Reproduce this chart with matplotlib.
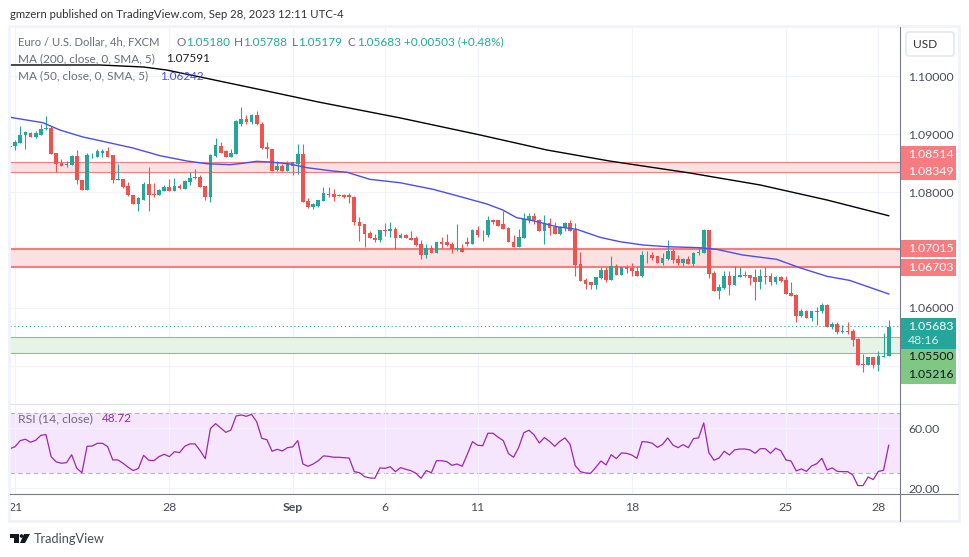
"""EUR/USD 4h chart"""

import matplotlib

matplotlib.use("Agg")
import matplotlib.pyplot as plt
from matplotlib.patches import FancyBboxPatch, Polygon, Rectangle
import numpy as np

plt.rcParams["font.family"] = ["Lato", "DejaVu Sans"]

# Candles, in pips (1 pip = 0.0001)
opens = [
    10878, 10880, 10884, 10899, 10902, 10894, 10899, 10909, 10910, 10867,
    10850, 10846, 10847, 10862, 10820, 10803, 10863, 10861, 10868, 10871,
    10863, 10821, 10823, 10810, 10795, 10779, 10786, 10814, 10797, 10794,
    10802, 10808, 10801, 10810, 10806, 10817, 10824, 10826, 10810, 10791,
    10862, 10880, 10871, 10861, 10866, 10918, 10926, 10921, 10933, 10918,
    10878, 10875, 10838, 10845, 10836, 10845, 10849, 10866, 10784, 10775,
    10776, 10785, 10797, 10797, 10794, 10794, 10794, 10792, 10749, 10744,
    10730, 10721, 10718, 10735, 10732, 10737, 10720, 10726, 10721, 10720,
    10711, 10692, 10704, 10694, 10714, 10713, 10711, 10701, 10704, 10714,
    10711, 10735, 10728, 10726, 10751, 10751, 10744, 10738, 10714, 10706,
    10721, 10752, 10759, 10752, 10733, 10747, 10740, 10728, 10738, 10747,
    10735, 10676, 10649, 10644, 10640, 10652, 10666, 10649, 10673, 10657,
    10671, 10669, 10664, 10656, 10692, 10692, 10689, 10678, 10685, 10699,
    10685, 10678, 10685, 10676, 10694, 10695, 10735, 10661, 10630, 10635,
    10656, 10640, 10654, 10657, 10657, 10654, 10644, 10656, 10656, 10644,
    10654, 10649, 10626, 10623, 10587, 10594, 10583, 10593, 10594, 10606,
    10568, 10573, 10559, 10561, 10561, 10547, 10504, 10501, 10516, 10502,
    10516, 10518,
]
highs = [
    10881, 10890, 10913, 10905, 10903, 10905, 10917, 10931, 10913, 10868,
    10857, 10853, 10864, 10872, 10821, 10868, 10868, 10874, 10874, 10878,
    10864, 10849, 10823, 10818, 10795, 10792, 10818, 10843, 10815, 10805,
    10812, 10822, 10824, 10814, 10821, 10834, 10839, 10829, 10810, 10865,
    10893, 10886, 10872, 10875, 10925, 10946, 10933, 10934, 10940, 10920,
    10887, 10875, 10853, 10848, 10854, 10852, 10883, 10883, 10789, 10781,
    10786, 10808, 10809, 10806, 10797, 10797, 10799, 10793, 10757, 10745,
    10732, 10728, 10735, 10747, 10749, 10740, 10730, 10728, 10732, 10725,
    10718, 10711, 10709, 10714, 10723, 10728, 10714, 10744, 10711, 10723,
    10737, 10742, 10735, 10759, 10754, 10752, 10768, 10740, 10726, 10737,
    10764, 10764, 10764, 10754, 10761, 10756, 10749, 10742, 10749, 10752,
    10747, 10697, 10651, 10644, 10654, 10670, 10670, 10689, 10676, 10671,
    10675, 10678, 10673, 10699, 10699, 10697, 10690, 10695, 10718, 10701,
    10692, 10687, 10690, 10697, 10706, 10737, 10735, 10664, 10642, 10664,
    10664, 10673, 10671, 10664, 10657, 10668, 10668, 10671, 10661, 10656,
    10656, 10656, 10644, 10625, 10599, 10597, 10594, 10601, 10609, 10607,
    10576, 10575, 10570, 10575, 10564, 10549, 10520, 10516, 10516, 10525,
    10557, 10579,
]
lows = [
    10876, 10872, 10884, 10875, 10894, 10893, 10898, 10907, 10866, 10834,
    10845, 10843, 10847, 10813, 10803, 10803, 10859, 10860, 10860, 10861,
    10816, 10820, 10807, 10793, 10779, 10768, 10786, 10768, 10791, 10794,
    10802, 10801, 10801, 10805, 10805, 10812, 10822, 10808, 10786, 10783,
    10861, 10868, 10860, 10860, 10866, 10914, 10918, 10918, 10916, 10875,
    10859, 10836, 10837, 10836, 10836, 10830, 10831, 10782, 10773, 10771,
    10775, 10784, 10792, 10784, 10793, 10789, 10781, 10743, 10716, 10706,
    10720, 10714, 10713, 10725, 10723, 10702, 10720, 10720, 10718, 10707,
    10685, 10687, 10694, 10694, 10704, 10707, 10694, 10699, 10697, 10707,
    10711, 10723, 10716, 10723, 10744, 10742, 10737, 10713, 10706, 10706,
    10721, 10747, 10744, 10732, 10711, 10726, 10728, 10726, 10732, 10732,
    10656, 10647, 10632, 10633, 10633, 10650, 10645, 10649, 10657, 10657,
    10661, 10656, 10656, 10654, 10678, 10683, 10678, 10675, 10682, 10678,
    10675, 10673, 10676, 10673, 10692, 10695, 10651, 10630, 10616, 10633,
    10623, 10639, 10654, 10654, 10640, 10614, 10633, 10642, 10639, 10642,
    10644, 10625, 10620, 10575, 10585, 10582, 10578, 10570, 10592, 10568,
    10563, 10556, 10557, 10556, 10535, 10501, 10489, 10501, 10497, 10492,
    10516, 10518,
]
closes = [
    10880, 10887, 10899, 10903, 10894, 10902, 10909, 10911, 10866, 10849,
    10845, 10849, 10862, 10820, 10803, 10864, 10864, 10871, 10871, 10861,
    10821, 10822, 10808, 10794, 10780, 10789, 10814, 10795, 10794, 10803,
    10809, 10801, 10810, 10807, 10819, 10825, 10826, 10809, 10791, 10864,
    10881, 10868, 10861, 10867, 10923, 10926, 10921, 10933, 10917, 10876,
    10875, 10837, 10845, 10836, 10848, 10851, 10865, 10783, 10774, 10779,
    10786, 10798, 10795, 10792, 10793, 10792, 10791, 10748, 10742, 10728,
    10720, 10718, 10735, 10732, 10737, 10720, 10726, 10720, 10718, 10709,
    10692, 10704, 10694, 10714, 10711, 10709, 10701, 10704, 10697, 10711,
    10735, 10726, 10727, 10751, 10749, 10742, 10737, 10713, 10706, 10723,
    10754, 10759, 10751, 10733, 10747, 10738, 10728, 10740, 10747, 10732,
    10675, 10647, 10642, 10640, 10654, 10666, 10649, 10673, 10657, 10671,
    10668, 10663, 10656, 10692, 10691, 10687, 10678, 10687, 10699, 10683,
    10678, 10685, 10676, 10695, 10697, 10735, 10659, 10630, 10637, 10656,
    10640, 10656, 10657, 10655, 10652, 10644, 10656, 10654, 10644, 10654,
    10647, 10625, 10621, 10587, 10594, 10583, 10594, 10595, 10606, 10568,
    10573, 10559, 10561, 10559, 10545, 10502, 10501, 10516, 10502, 10518,
    10518, 10568,
]

# Moving averages, read at a number of bars along each line
ma200_bars = [0, 17.5, 26, 30.5, 37, 50, 60, 76, 91.5, 104.5, 116.7, 132.3, 146, 159, 171]
ma200_vals = [
    1.10190, 1.10190, 1.10155, 1.10103, 1.09983, 1.09741, 1.09552, 1.09276,
    1.08983, 1.08724, 1.08534, 1.08328, 1.08121, 1.07862, 1.07591,
]
ma50_bars = [
    0, 6.4, 9.7, 14.2, 17.5, 23.9, 29.2, 34.4, 38.3, 42.8, 45.3, 48, 50.6,
    54.5, 57.8, 62.8, 65.6, 70, 75.9, 82.3, 88.1, 92.8, 95.9, 98.6, 101.8,
    106.4, 110.3, 114.8, 118.7, 123.2, 127.8, 134.2, 137.5, 142.6, 149.2,
    153.7, 159, 163.4, 171,
]
ma50_vals = [
    1.09288, 1.09195, 1.09069, 1.08948, 1.08885, 1.08759, 1.08626, 1.08535,
    1.08488, 1.08471, 1.08495, 1.08529, 1.08517, 1.08483, 1.08419, 1.08362,
    1.08340, 1.08219, 1.08160, 1.08047, 1.07909, 1.07793, 1.07690, 1.07557,
    1.07505, 1.07402, 1.07357, 1.07219, 1.07143, 1.07086, 1.07057, 1.07040,
    1.07012, 1.06914, 1.06839, 1.06694, 1.06546, 1.06476, 1.06242,
]

rsi = [
    46.4, 47.8, 51.8, 52.7, 50.7, 52.0, 55.3, 55.8, 41.1, 37.6,
    36.7, 37.1, 42.4, 33.3, 30.4, 48.0, 48.2, 50.0, 50.0, 47.8,
    38.9, 38.9, 36.7, 34.0, 31.8, 33.3, 42.0, 38.7, 38.4, 41.1,
    42.7, 41.1, 44.4, 43.8, 48.0, 49.6, 49.6, 45.1, 39.8, 59.8,
    63.1, 60.2, 57.3, 58.9, 68.2, 68.9, 68.0, 69.3, 64.4, 53.3,
    52.4, 44.7, 46.0, 44.9, 47.1, 47.6, 51.8, 36.2, 34.7, 36.2,
    38.4, 41.6, 41.3, 40.7, 40.7, 40.4, 40.2, 31.1, 30.4, 27.8,
    26.9, 26.7, 33.6, 33.3, 34.4, 31.1, 33.8, 32.7, 31.8, 30.0,
    26.7, 31.8, 30.4, 38.4, 38.4, 37.8, 35.3, 36.2, 34.7, 42.7,
    51.1, 48.7, 48.4, 56.7, 56.7, 54.0, 51.8, 43.1, 40.7, 47.3,
    57.1, 58.7, 55.6, 50.2, 53.8, 51.3, 48.0, 51.3, 53.6, 49.3,
    35.1, 31.1, 30.2, 30.0, 34.0, 38.2, 35.6, 42.4, 39.8, 43.6,
    43.3, 42.2, 40.0, 51.1, 50.9, 50.0, 47.3, 49.3, 53.6, 48.9,
    47.1, 49.1, 47.1, 53.1, 53.6, 63.6, 43.8, 38.7, 40.2, 44.7,
    42.2, 45.6, 46.2, 46.2, 45.6, 43.3, 46.4, 46.4, 43.3, 46.7,
    45.1, 38.9, 38.2, 31.6, 32.9, 31.3, 34.9, 36.4, 40.0, 32.2,
    33.6, 31.3, 31.1, 31.1, 28.9, 21.8, 21.8, 27.6, 25.8, 31.3,
    32.0, 48.72,
]

date_bars = [1, 31, 55, 73, 91, 121, 151, 169]
date_labels = ["21", "28", "Sep", "6", "11", "18", "25", "28"]
price_ticks = [1.05, 1.06, 1.07, 1.08, 1.09, 1.10]
price_tick_labels = ["", "1.06000", "", "1.08000", "1.09000", "1.10000"]
rsi_ticks = [20, 60]
red_zones = [(1.08349, 1.08514, 0.8), (1.06703, 1.07015, 1.5)]
green_zone = (1.05216, 1.05500)
last_price = 1.05683

UP = "#26A69A"
DOWN = "#EF5350"
GRID = "#F0F3FA"
AXIS = "#787B86"
TEXT = "#6A6D78"
W, H = 970, 557


def px_axes(left, top, right, bottom):
    return fig.add_axes(
        [left / W, 1 - bottom / H, (right - left) / W, (bottom - top) / H]
    )


fig = plt.figure(figsize=(W / 100, H / 100), dpi=100)

# Price pane
ax = px_axes(10, 27, 900, 403)
bars = np.arange(len(closes))
o = np.array(opens) / 10000
h = np.array(highs) / 10000
l = np.array(lows) / 10000
c = np.array(closes) / 10000
colors = [UP if b >= a else DOWN for a, b in zip(o, c)]

for lo, hi, lw in red_zones:
    ax.axhspan(lo, hi, color="#FCE1E2", lw=0, zorder=1)
    ax.axhline(lo, color="#F77C80", lw=lw, zorder=2)
    ax.axhline(hi, color="#F77C80", lw=lw, zorder=2)
ax.axhspan(green_zone[0], green_zone[1], color="#E6F4E7", lw=0, zorder=1)
ax.axhline(green_zone[0], color="#81C784", lw=0.8, zorder=2)
ax.axhline(green_zone[1], color="#81C784", lw=0.8, zorder=2)

ax.vlines(bars, l, h, colors=colors, lw=0.8, zorder=3)
ax.bar(bars, np.abs(c - o).clip(0.00003), bottom=np.minimum(o, c), width=0.72,
       color=colors, lw=0, zorder=4)
ax.plot(ma200_bars, ma200_vals, color="black", lw=1, zorder=5)
ax.plot(ma50_bars, ma50_vals, color="#4C4CF0", lw=1, zorder=5)
ax.axhline(last_price, color=UP, lw=0.8, ls=(0, (1, 2.5)), zorder=5)

ax.set_xlim(0, 173.2)
ax.set_ylim(1.04362, 1.10845)
ax.yaxis.tick_right()
ax.set_yticks(price_ticks)
ax.set_yticklabels(price_tick_labels, fontsize=8.8, color="#4A4D57")
ax.set_xticks(date_bars)
ax.tick_params(axis="x", length=0, labelbottom=False)
ax.tick_params(axis="y", length=0, pad=5.8)
ax.grid(True, color=GRID, lw=0.8, zorder=0)
ax.set_axisbelow(True)

# RSI pane
ax2 = px_axes(10, 404, 900, 494)
ax2.axhspan(30, 70, color="#F5E6FD", lw=0, zorder=1)
ax2.axhline(70, color="#B2B5BE", lw=0.8, ls=(0, (4, 3)), zorder=2)
ax2.axhline(30, color="#B2B5BE", lw=0.8, ls=(0, (4, 3)), zorder=2)
ax2.plot(bars, rsi, color="#9C27B0", lw=0.9, zorder=4)
ax2.set_xlim(0, 173.2)
ax2.set_ylim(16.2, 76.2)
ax2.yaxis.tick_right()
ax2.set_yticks(rsi_ticks)
ax2.set_yticklabels(["20.00", "60.00"], fontsize=8.8, color="#4A4D57")
ax2.set_xticks(date_bars)
ax2.set_xticklabels(date_labels, fontsize=8.8, color="#4A4D57")
ax2.get_xticklabels()[2].set_fontweight("bold")
ax2.tick_params(axis="x", length=0, pad=6)
ax2.tick_params(axis="y", length=0, pad=5.8)
ax2.grid(True, color=GRID, lw=0.8, zorder=3)
ax2.set_axisbelow(False)

for a in (ax, ax2):
    for s in a.spines.values():
        s.set_visible(False)
ax.patch.set_alpha(0)
ax2.patch.set_alpha(0)

# Everything around the panes is placed in pixels
ov = fig.add_axes([0, 0, 1, 1], zorder=10)
ov.set_xlim(0, W)
ov.set_ylim(H, 0)
ov.axis("off")
ov.patch.set_alpha(0)

# Frame of the widget
ov.add_patch(Rectangle((9, 26), 950, 495, fill=False, ec=GRID, lw=2))
ov.plot([10, 958], [403.5, 403.5], color="#E0E3EB", lw=0.8)
ov.plot([10, 958], [494, 494], color=AXIS, lw=0.8)
ov.plot([900, 900], [27, 521], color=AXIS, lw=0.8)


def label(x, y, s, color=TEXT, size=8.5, **kw):
    ov.text(x, y, s, color=color, fontsize=size, va="center", ha="left", **kw)


label(10, 14.5, "gmzern published on TradingView.com, Sep 28, 2023 12:11 UTC-4",
      color="#333333", size=8.2)

label(18, 42, "Euro / U.S. Dollar, 4h, FXCM", size=8.1)
for x, s, col in [
    (177, "O", TEXT), (186, "1.05180", UP), (234, "H", TEXT), (243, "1.05788", UP),
    (292, "L", TEXT), (298, "1.05179", UP), (348, "C", TEXT), (357, "1.05683", UP),
    (404, "+0.00503 (+0.48%)", UP),
]:
    label(x, 42, s, color=col)
label(18, 59, "MA (200, close, 0, SMA, 5)")
label(166, 59, "1.07591", color="#222222")
label(18, 76, "MA (50, close, 0, SMA, 5)")
label(160, 76, "1.06242", color="#4C4CF0")
label(18, 419, "RSI (14, close)", size=8.8)
label(102, 419, "48.72", color="#9C27B0")

# Currency button
ov.add_patch(FancyBboxPatch((906, 32), 48, 24, boxstyle="round,pad=0,rounding_size=3",
                            fc="white", ec="#E0E3EB", lw=1))
label(913, 44.5, "USD", color="#333333", size=8.6)

# Price tags on the axis
for top, bottom, col in [
    (146, 180, "#F77C80"), (240, 257, "#F77C80"), (259, 276, "#F77C80"),
    (318, 349, UP), (349, 384, "#81C784"),
]:
    ov.add_patch(Rectangle((900, top), 56, bottom - top, fc=col, ec="none"))
for y, s, col in [
    (154.5, "1.08514", "white"), (171.5, "1.08349", "white"), (248.5, "1.07015", "white"),
    (267.5, "1.06703", "white"), (326.5, "1.05683", "white"), (340.5, "48:16", "#D5EFEC"),
    (357, "1.05500", "#131722"), (375, "1.05216", "#131722"),
]:
    label(908, y, s, color=col, size=8.8)

# Logo and name
ov.add_patch(Polygon([(10, 534), (19, 534), (19, 543), (14, 543), (14, 538), (10, 538)],
                     fc="#131722", ec="none"))
ov.add_patch(Polygon([(24, 534), (30, 534), (25, 543), (20, 543)], fc="#131722", ec="none"))
ov.add_patch(plt.Circle((21.5, 536), 1.8, fc="#131722", ec="none"))
label(34, 539, "TradingView", color="#4A4D57", size=9.2)

fig.savefig("out.png", dpi=100, facecolor="white")
